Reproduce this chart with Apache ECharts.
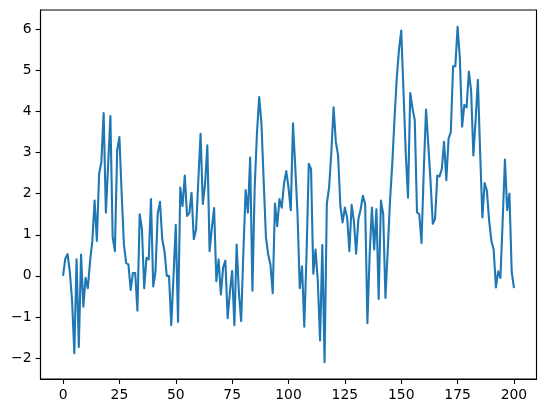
<!DOCTYPE html>
<html>
<head>
<meta charset="utf-8">
<script src="https://cdn.jsdelivr.net/npm/echarts@6/dist/echarts.min.js"></script>
<style>
html,body{margin:0;padding:0;background:#fff;}
#chart{width:546px;height:413px;}
</style>
</head>
<body>
<div id="chart"></div>
<script>
// Series values, index 0..200
const values = [
 0.0, 0.42, 0.53, 0.1, -0.6, -1.88, 0.4, -1.73, 0.52, -0.75,
 -0.05, -0.3, 0.36, 0.85, 1.83, 0.85, 2.48, 2.77, 3.96, 1.54,
 2.7, 3.89, 0.95, 0.6, 3.05, 3.38, 2.0, 0.76, 0.31, 0.28,
 -0.34, 0.07, 0.07, -0.85, 1.5, 1.13, -0.3, 0.44, 0.4, 1.87,
 -0.26, 0.1, 1.52, 1.8, 0.89, 0.6, 0.0, 0.0, -1.2, 0.0,
 1.24, -1.12, 2.15, 1.7, 2.44, 1.46, 1.52, 2.02, 0.89, 1.13,
 2.32, 3.46, 1.75, 2.24, 3.18, 0.6, 1.17, 1.65, -0.13, 0.4,
 -0.45, 0.2, 0.37, -1.03, -0.4, 0.12, -1.2, 0.76, -0.4, -1.1,
 0.6, 2.09, 1.54, 2.88, -0.36, 2.15, 3.46, 4.35, 3.71, 2.3,
 0.93, 0.52, 0.27, -0.42, 1.76, 1.21, 1.87, 1.66, 2.24, 2.55,
 2.15, 1.6, 3.71, 2.65, 1.5, -0.3, 0.23, -1.24, 0.52, 2.73,
 2.6, 0.05, 0.64, -0.13, -1.57, 0.75, -2.1, 1.75, 2.15, 3.0,
 4.1, 3.26, 2.93, 1.7, 1.3, 1.66, 1.42, 0.6, 1.73, 1.34,
 0.54, 1.38, 1.62, 1.95, 1.75, -1.15, 0.52, 1.66, 0.64, 1.62,
 -0.56, 1.83, 1.5, -0.54, 0.6, 1.8, 2.7, 3.8, 4.8, 5.5,
 5.97, 4.5, 3.0, 1.9, 4.45, 4.08, 3.79, 1.55, 1.5, 0.8,
 2.56, 4.05, 3.2, 2.3, 1.27, 1.38, 2.44, 2.42, 2.6, 3.26,
 2.33, 3.34, 3.5, 5.1, 5.1, 6.06, 5.3, 3.63, 4.16, 4.1,
 4.97, 4.5, 2.93, 3.8, 4.77, 3.0, 1.42, 2.26, 2.07, 1.34,
 0.85, 0.64, -0.28, 0.11, -0.05, 1.34, 2.83, 1.6, 2.0, 0.1,
 -0.3
];
const xTicks = [0, 25, 50, 75, 100, 125, 150, 175, 200];
const yTicks = [-2, -1, 0, 1, 2, 3, 4, 5, 6];

const seriesData = values.map((v, i) => [i, v]);
const fontFamily = '"DejaVu Sans", sans-serif';
const fmt = v => (v < 0 ? '\u2212' + Math.abs(v) : String(v));

const chart = echarts.init(document.getElementById('chart'), null, {renderer: 'canvas'});
chart.setOption({
  animation: false,
  backgroundColor: '#fff',
  grid: {
    left: 40.5, right: 9.5, top: 10, bottom: 34,
    show: true, borderColor: '#000', borderWidth: 1.1, backgroundColor: 'transparent'
  },
  xAxis: {
    type: 'value', min: -10, max: 210,
    splitLine: {show: false},
    axisLine: {show: true, onZero: false, lineStyle: {color: '#000', width: 1.1}},
    axisTick: {show: true, inside: false, length: 4.9, lineStyle: {color: '#000', width: 1.1}, customValues: xTicks},
    axisLabel: {color: '#000', fontSize: 13.9, fontFamily: fontFamily, margin: 9, customValues: xTicks, formatter: fmt}
  },
  yAxis: {
    type: 'value', min: -2.51, max: 6.47,
    splitLine: {show: false},
    axisLine: {show: true, onZero: false, lineStyle: {color: '#000', width: 1.1}},
    axisTick: {show: true, inside: false, length: 4.9, lineStyle: {color: '#000', width: 1.1}, customValues: yTicks},
    axisLabel: {color: '#000', fontSize: 13.9, fontFamily: fontFamily, margin: 9, customValues: yTicks, formatter: fmt}
  },
  series: [{
    type: 'line',
    data: seriesData,
    showSymbol: false,
    symbol: 'none',
    lineStyle: {color: '#1f77b4', width: 2.1, join: 'round', cap: 'butt'},
    itemStyle: {color: '#1f77b4'},
    clip: true
  }]
});
</script>
</body>
</html>
